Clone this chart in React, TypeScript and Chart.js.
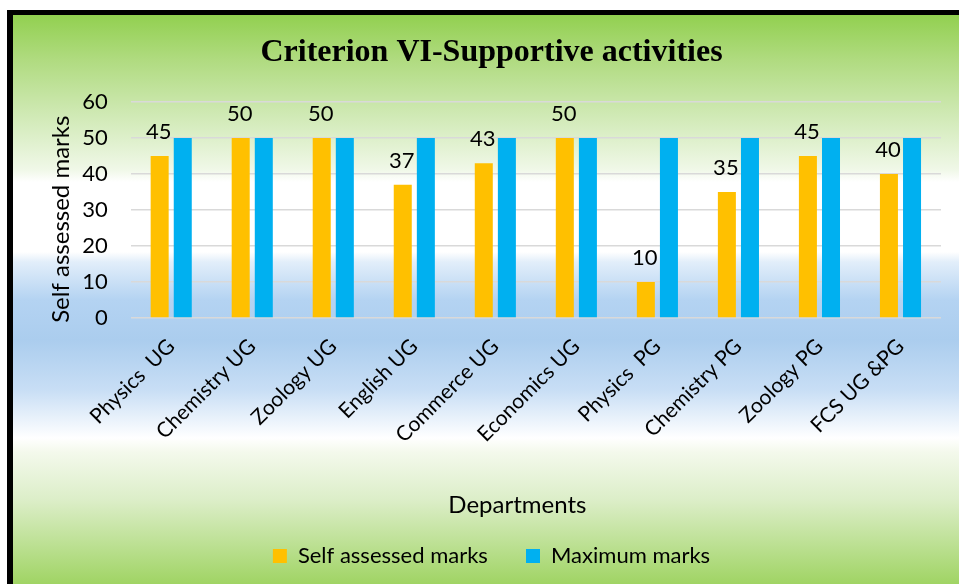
import React, { useEffect, useRef } from 'react';
import { Chart, registerables } from 'chart.js';

Chart.register(...registerables);

const categories = [
  'Physics  UG',
  'Chemistry UG',
  'Zoology UG',
  'English UG',
  'Commerce UG',
  'Economics UG',
  'Physics  PG',
  'Chemistry PG',
  'Zoology PG',
  'FCS UG &PG',
];
const selfAssessed = [45, 50, 50, 37, 43, 50, 10, 35, 45, 40];
const maximumMarks = [50, 50, 50, 50, 50, 50, 50, 50, 50, 50];
const seriesNames = ['Self assessed marks', 'Maximum marks'];
const yMin = 0;
const yMax = 60;
const yStep = 10;
const titleText = 'Criterion VI-Supportive activities';
const xTitleText = 'Departments';
const yTitleText = 'Self assessed marks';

const FONT = 'Lato';

const bgPlugin = {
  id: 'bgPlugin',
  beforeDraw(chart: any) {
    const { ctx, width, height } = chart;
    ctx.save();
    ctx.fillStyle = '#ffffff';
    ctx.fillRect(0, 0, width, height);
    ctx.fillStyle = '#000000';
    ctx.fillRect(7, 10, width - 7, height - 10);
    const top = 15;
    const h = height - top;
    const g = ctx.createLinearGradient(0, top, 0, height);
    const stops: [number, string][] = [
      [15, 'rgb(146,208,80)'],
      [60, 'rgb(176,219,128)'],
      [110, 'rgb(205,232,176)'],
      [170, 'rgb(240,248,232)'],
      [182, 'rgb(255,255,255)'],
      [252, 'rgb(255,255,255)'],
      [262, 'rgb(226,238,250)'],
      [300, 'rgb(180,211,242)'],
      [340, 'rgb(171,205,238)'],
      [390, 'rgb(200,222,245)'],
      [438, 'rgb(255,255,255)'],
      [452, 'rgb(244,249,236)'],
      [500, 'rgb(220,238,200)'],
      [584, 'rgb(160,212,100)'],
    ];
    stops.forEach(([y, c]) => g.addColorStop(Math.min(1, Math.max(0, (y - top) / h)), c));
    ctx.fillStyle = g;
    ctx.fillRect(13, top, width - 13, h);
    ctx.restore();
  },
};

const valueLabelPlugin = {
  id: 'valueLabelPlugin',
  afterDatasetsDraw(chart: any) {
    const { ctx } = chart;
    const meta = chart.getDatasetMeta(0);
    ctx.save();
    ctx.font = `22px ${FONT}`;
    ctx.fillStyle = '#000000';
    ctx.textAlign = 'center';
    ctx.textBaseline = 'middle';
    meta.data.forEach((bar: any, i: number) => {
      ctx.fillText(String(selfAssessed[i]), bar.x - 1, bar.y - 24);
    });
    ctx.restore();
  },
};

export default function App() {
  const canvasRef = useRef<HTMLCanvasElement | null>(null);

  useEffect(() => {
    const canvas = canvasRef.current;
    if (!canvas) return;
    const chart = new Chart(canvas, {
      type: 'bar',
      data: {
        labels: categories,
        datasets: [
          {
            label: seriesNames[0],
            data: selfAssessed,
            backgroundColor: '#FFC000',
            borderWidth: 0,
            categoryPercentage: 0.57,
            barPercentage: 0.78,
          },
          {
            label: seriesNames[1],
            data: maximumMarks,
            backgroundColor: '#00B0F0',
            borderWidth: 0,
            categoryPercentage: 0.57,
            barPercentage: 0.78,
          },
        ],
      },
      options: {
        animation: false,
        responsive: true,
        maintainAspectRatio: false,
        layout: { padding: { left: 42, right: 18, top: 0, bottom: 7 } },
        plugins: {
          title: {
            display: true,
            text: titleText,
            color: '#000000',
            font: { family: 'Liberation Serif', size: 32, weight: 'bold' },
            padding: { top: 34, bottom: 29.6 },
          },
          legend: {
            position: 'bottom',
            labels: {
              color: '#000000',
              font: { family: FONT, size: 22 },
              boxWidth: 14,
              boxHeight: 14,
              padding: 10,
              generateLabels(chart: any) {
                const items = (Chart.defaults.plugins.legend.labels as any).generateLabels(chart);
                if (items[0]) items[0].text = items[0].text + '     ';
                return items;
              },
            },
          },
          tooltip: { enabled: false },
        },
        scales: {
          x: {
            grid: { display: false },
            border: { display: false },
            ticks: {
              color: '#000000',
              font: { family: FONT, size: 21 },
              minRotation: 45,
              maxRotation: 45,
              autoSkip: false,
              padding: 8,
            },
            title: {
              display: true,
              text: xTitleText + '      ',
              color: '#000000',
              font: { family: FONT, size: 24 },
              padding: { top: 0, bottom: 15.6 },
            },
            afterFit(scale: any) {
              scale.height = 217;
            },
          },
          y: {
            min: yMin,
            max: yMax,
            ticks: {
              stepSize: yStep,
              color: '#000000',
              font: { family: FONT, size: 22 },
              padding: 23,
            },
            grid: { color: '#d9d9d9', lineWidth: 1.5, drawTicks: false },
            border: { display: false },
            title: {
              display: true,
              text: yTitleText + '   ',
              color: '#000000',
              font: { family: FONT, size: 24 },
              padding: { top: 4.6, bottom: 0 },
            },
            afterFit(scale: any) {
              scale.width = 88.7;
            },
          },
        },
      } as any,
      plugins: [bgPlugin, valueLabelPlugin],
    });
    return () => chart.destroy();
  }, []);

  return (
    <div style={{ position: 'absolute', left: 0, top: 0, width: 959, height: 584 }}>
      <canvas ref={canvasRef} />
    </div>
  );
}
